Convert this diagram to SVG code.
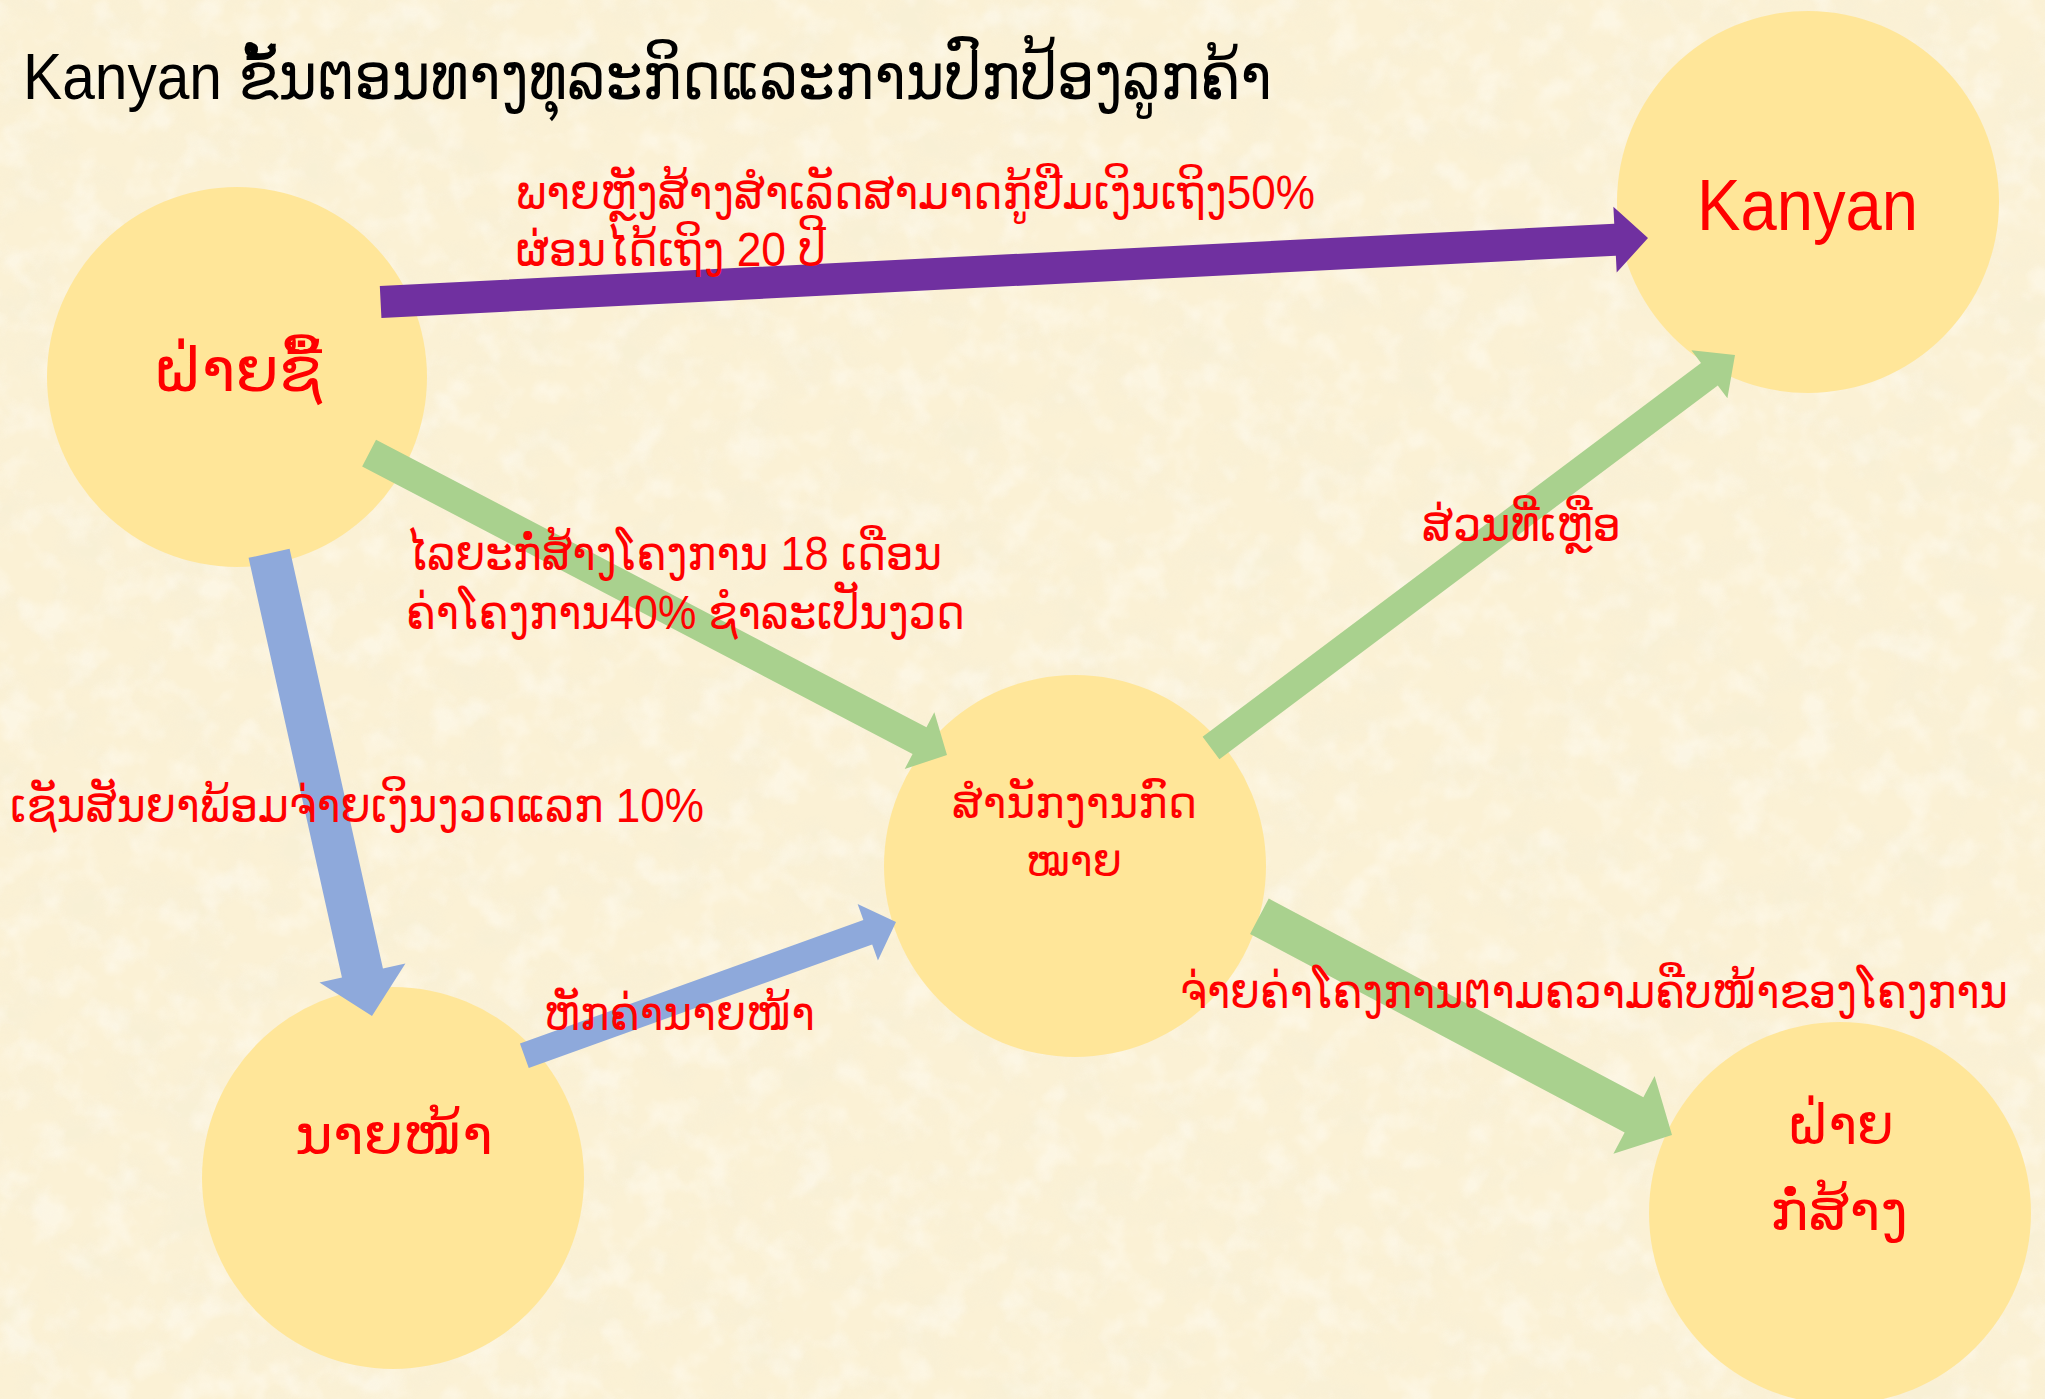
<svg xmlns="http://www.w3.org/2000/svg" width="2045" height="1399" viewBox="0 0 2045 1399">
<style>
.node{fill:#FFE699}
.lbl{fill:#FF0000;font-family:"Liberation Sans","DejaVu Sans",sans-serif;font-size:48px}
.nlbl{fill:#FF0000;font-family:"Liberation Sans","DejaVu Sans",sans-serif;text-anchor:start}
.title{fill:#000000;font-family:"Liberation Sans","DejaVu Sans",sans-serif;font-size:64px}
.purple{fill:#7030A0}
.blue{fill:#8EA9DB}
.green{fill:#A9D18E}
</style>
<defs>
<filter id="paper" x="0" y="0" width="100%" height="100%">
<feTurbulence type="fractalNoise" baseFrequency="0.018 0.024" numOctaves="4" seed="7"/>
<feColorMatrix type="matrix" values="0 0 0 0 0.92  0 0 0 0 0.86  0 0 0 0 0.68  3 0 0 0 -1.3"/>
</filter>
<filter id="paperlight" x="0" y="0" width="100%" height="100%">
<feTurbulence type="fractalNoise" baseFrequency="0.03" numOctaves="3" seed="21"/>
<feColorMatrix type="matrix" values="0 0 0 0 1  0 0 0 0 0.98  0 0 0 0 0.92  3 0 0 0 -1.4"/>
</filter>
</defs>
<rect x="0" y="0" width="2045" height="1399" fill="#FBF1D5"/>
<rect x="0" y="0" width="2045" height="1399" filter="url(#paper)" opacity="0.45"/>
<rect x="0" y="0" width="2045" height="1399" filter="url(#paperlight)" opacity="0.45"/>
<text class="title" x="23" y="99" textLength="1249" lengthAdjust="spacingAndGlyphs">Kanyan ຂັ້ນຕອນທາງທຸລະກິດແລະການປົກປ້ອງລູກຄ້າ</text>
<g id="node-buyer">
<circle class="node" cx="237" cy="377" r="190"/>
<text class="nlbl" x="153" y="391" font-size="60" textLength="169" lengthAdjust="spacingAndGlyphs">ຝ່າຍຊື້</text>
</g>
<g id="node-kanyan">
<circle class="node" cx="1808" cy="202" r="191"/>
<text class="nlbl" x="1697" y="230" font-size="72" textLength="221" lengthAdjust="spacingAndGlyphs">Kanyan</text>
</g>
<g id="node-law">
<circle class="node" cx="1075" cy="866" r="191"/>
<text class="nlbl" x="952" y="818" font-size="44" textLength="245" lengthAdjust="spacingAndGlyphs">ສຳນັກງານກົດ</text>
<text class="nlbl" x="1026" y="876" font-size="44" textLength="96" lengthAdjust="spacingAndGlyphs">ໝາຍ</text>
</g>
<g id="node-broker">
<circle class="node" cx="393" cy="1178" r="191"/>
<text class="nlbl" x="295" y="1154" font-size="56" textLength="198" lengthAdjust="spacingAndGlyphs">ນາຍໜ້າ</text>
</g>
<g id="node-builder">
<circle class="node" cx="1840" cy="1213" r="191"/>
<text class="nlbl" x="1787" y="1144" font-size="56" textLength="107" lengthAdjust="spacingAndGlyphs">ຝ່າຍ</text>
<text class="nlbl" x="1770" y="1230" font-size="56" textLength="138" lengthAdjust="spacingAndGlyphs">ກໍ່ສ້າງ</text>
</g>
<g id="connectors">
<polygon class="purple" transform="translate(1648,238) rotate(-2.89)" points="-1269,-16 -33,-16 -33,-33 0,0 -33,33 -33,16 -1269,16"/>
<polygon class="blue" transform="translate(372,1016) rotate(77.46)" points="-474,-21 -44,-21 -44,-44 0,0 -44,44 -44,21 -474,21"/>
<polygon class="blue" transform="translate(896,922) rotate(-19.8)" points="-395,-13 -30,-13 -30,-30 0,0 -30,30 -30,13 -395,13"/>
<polygon class="green" transform="translate(947,755) rotate(27.58)" points="-652,-15 -31,-15 -31,-32 0,0 -31,32 -31,15 -652,15"/>
<polygon class="green" transform="translate(1735,355) rotate(-36.87)" points="-655,-14 -32,-14 -32,-30 0,0 -32,30 -32,14 -655,14"/>
<polygon class="green" transform="translate(1672,1135) rotate(27.93)" points="-467,-20 -43,-20 -43,-44 0,0 -43,44 -43,20 -467,20"/>
</g>
<g id="edge-labels">
<text class="lbl" x="516" y="209" textLength="799" lengthAdjust="spacingAndGlyphs">ພາຍຫຼັງສ້າງສຳເລັດສາມາດກູ້ຢືມເງິນເຖິງ50%</text>
<text class="lbl" x="516" y="266" textLength="310" lengthAdjust="spacingAndGlyphs">ຜ່ອນໄດ້ເຖິງ 20 ປີ</text>
<text class="lbl" x="406" y="570" textLength="536" lengthAdjust="spacingAndGlyphs">ໄລຍະກໍ່ສ້າງໂຄງການ 18 ເດືອນ</text>
<text class="lbl" x="406" y="629" textLength="559" lengthAdjust="spacingAndGlyphs">ຄ່າໂຄງການ40% ຊໍາລະເປັນງວດ</text>
<text class="lbl" x="10" y="822" textLength="694" lengthAdjust="spacingAndGlyphs">ເຊັນສັນຍາພ້ອມຈ່າຍເງິນງວດແລກ 10%</text>
<text class="lbl" x="544" y="1030" textLength="271" lengthAdjust="spacingAndGlyphs">ຫັກຄ່ານາຍໜ້າ</text>
<text class="lbl" x="1422" y="541" textLength="199" lengthAdjust="spacingAndGlyphs">ສ່ວນທີ່ເຫຼືອ</text>
<text class="lbl" x="1180" y="1008" font-size="40" textLength="828" lengthAdjust="spacingAndGlyphs">ຈ່າຍຄ່າໂຄງການຕາມຄວາມຄືບໜ້າຂອງໂຄງການ</text>
</g>
</svg>
